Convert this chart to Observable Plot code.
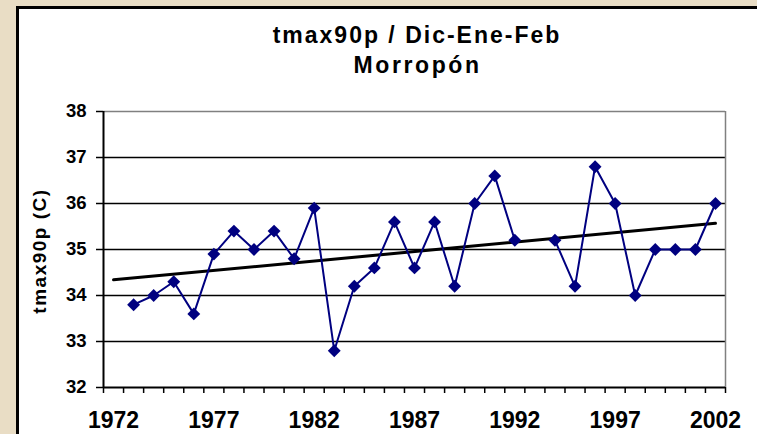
<!DOCTYPE html>
<html>
<head>
<meta charset="utf-8">
<script src="https://cdn.jsdelivr.net/npm/d3@7"></script>
<script src="https://cdn.jsdelivr.net/npm/@observablehq/plot@0.6"></script>
<style>
  html, body { margin: 0; padding: 0; }
  body { width: 757px; height: 434px; overflow: hidden; background: #E9DDC5; position: relative;
         font-family: 'Liberation Sans', Arial, sans-serif; }
  #panel { position: absolute; left: 16px; top: 6px; width: 760px; height: 440px; background: #fff;
           border-top: 3px solid #000; border-left: 3px solid #000; }
  .title { position: absolute; left: 215px; width: 400px; text-align: center; font-weight: bold;
           font-size: 23px; line-height: 23px; color: #000; white-space: nowrap; }
  #t1 { top: 24px; letter-spacing: 2px; padding-left: 2px; }
  #t2 { top: 54px; letter-spacing: 2.6px; padding-left: 2.6px; }
  #ylab { position: absolute; left: 40px; top: 251px; transform: translate(-50%, -50%) rotate(-90deg);
          font-weight: bold; font-size: 19px; letter-spacing: 1.5px; white-space: nowrap; color: #000; }
  #chart { position: absolute; left: 0; top: 0; }
  #chart svg text { font-weight: bold; }
</style>
</head>
<body>
<div id="panel"></div>
<div class="title" id="t1">tmax90p / Dic-Ene-Feb</div>
<div class="title" id="t2">Morropón</div>
<div id="ylab">tmax90p (C)</div>
<div id="chart"></div>
<script>
// Data
const years = [1973, 1974, 1975, 1976, 1977, 1978, 1979, 1980, 1981, 1982,
               1983, 1984, 1985, 1986, 1987, 1988, 1989, 1990, 1991, 1992,
               1993, 1994, 1995, 1996, 1997, 1998, 1999, 2000, 2001, 2002];
const values = [33.8, 34.0, 34.3, 33.6, 34.9, 35.4, 35.0, 35.4, 34.8, 35.9,
                32.8, 34.2, 34.6, 35.6, 34.6, 35.6, 34.2, 36.0, 36.6, 35.2,
                null, 35.2, 34.2, 36.8, 36.0, 34.0, 35.0, 35.0, 35.0, 36.0];
const trendYears = [1972, 2002];
const trendValues = [34.34, 35.57];
const xTickLabels = [1972, 1977, 1982, 1987, 1992, 1997, 2002];
const yTickLabels = [32, 33, 34, 35, 36, 37, 38];
const gridValues = [33, 34, 35, 36, 37];

const data = years.map((year, i) => ({year, value: values[i]}));
const points = data.filter(d => d.value != null);
const trend = trendYears.map((year, i) => ({year, value: trendValues[i]}));
// category boundaries (Excel category axis: ticks between categories)
const boundaries = [];
for (let y = 1972; y <= 2003; y++) boundaries.push(y - 0.5);

const chart = Plot.plot({
  width: 757,
  height: 434,
  marginLeft: 103,
  marginRight: 32,
  marginTop: 111,
  marginBottom: 47,
  style: {background: "transparent", fontFamily: "'Liberation Sans', Arial, sans-serif", color: "#000"},
  x: {domain: [1971.5, 2002.5], axis: null},
  y: {domain: [32, 38], axis: null},
  marks: [
    Plot.ruleY(gridValues, {stroke: "#000", strokeWidth: 1.5}),
    Plot.ruleY([38], {stroke: "#808080", strokeWidth: 1.5}),
    Plot.ruleX([2002.5], {stroke: "#808080", strokeWidth: 1.5}),
    Plot.axisX({ticks: boundaries, tickFormat: () => "", tickSize: 6, stroke: "#000", strokeWidth: 1.5, label: null}),
    Plot.axisX({ticks: xTickLabels, tickFormat: d => String(d), tickSize: 0, tickPadding: 24,
                fontSize: 23, fontWeight: "bold", label: null}),
    Plot.axisY({ticks: yTickLabels, tickFormat: d => String(d), tickSize: 7, tickPadding: 10,
                fontSize: 18.5, fontWeight: "bold", stroke: "#000", strokeWidth: 1.5, label: null}),
    Plot.ruleY([32], {stroke: "#000", strokeWidth: 2}),
    Plot.ruleX([1971.5], {stroke: "#000", strokeWidth: 2}),
    Plot.line(trend, {x: "year", y: "value", stroke: "#000", strokeWidth: 3}),
    Plot.line(data, {x: "year", y: "value", stroke: "#000080", strokeWidth: 2}),
    Plot.dot(points, {x: "year", y: "value", symbol: "diamond2", r: 5.8, fill: "#000080", stroke: "none"})
  ]
});
document.getElementById("chart").appendChild(chart);
</script>
</body>
</html>
